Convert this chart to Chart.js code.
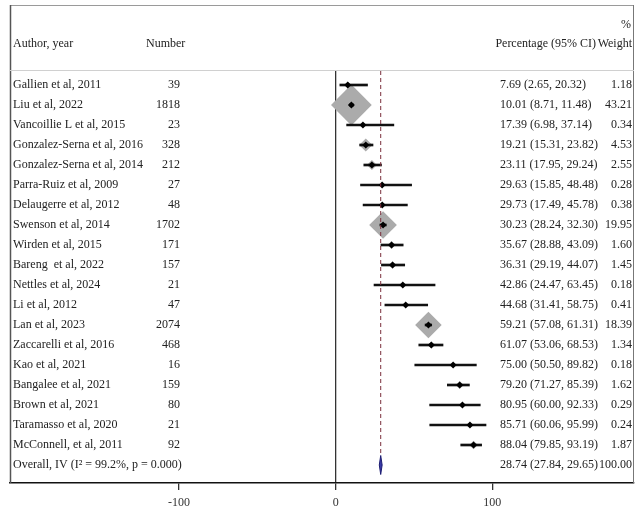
<!DOCTYPE html>
<html>
<head>
<meta charset="utf-8">
<script src="https://cdn.jsdelivr.net/npm/chart.js@4.4.1/dist/chart.umd.min.js"></script>
<style>
  html, body { margin: 0; padding: 0; background: #ffffff; }
  #c { display: block; }
</style>
</head>
<body>
<canvas id="c" width="641" height="512"></canvas>
<script>
// ---- data ----
const authors = [
  "Gallien et al, 2011", "Liu et al, 2022", "Vancoillie L et al, 2015",
  "Gonzalez-Serna et al, 2016", "Gonzalez-Serna et al, 2014", "Parra-Ruiz et al, 2009",
  "Delaugerre et al, 2012", "Swenson et al, 2014", "Wirden et al, 2015",
  "Bareng  et al, 2022", "Nettles et al, 2024", "Li et al, 2012", "Lan et al, 2023",
  "Zaccarelli et al, 2016", "Kao et al, 2021", "Bangalee et al, 2021",
  "Brown et al, 2021", "Taramasso et al, 2020", "McConnell, et al, 2011"
];
const numbers = [39, 1818, 23, 328, 212, 27, 48, 1702, 171, 157, 21, 47, 2074, 468, 16, 159, 80, 21, 92];
const estimates = [7.69, 10.01, 17.39, 19.21, 23.11, 29.63, 29.73, 30.23, 35.67, 36.31, 42.86, 44.68, 59.21, 61.07, 75.00, 79.20, 80.95, 85.71, 88.04];
const lower = [2.65, 8.71, 6.98, 15.31, 17.95, 15.85, 17.49, 28.24, 28.88, 29.19, 24.47, 31.41, 57.08, 53.06, 50.50, 71.27, 60.00, 60.06, 79.85];
const upper = [20.32, 11.48, 37.14, 23.82, 29.24, 48.48, 45.78, 32.30, 43.09, 44.07, 63.45, 58.75, 61.31, 68.53, 89.82, 85.39, 92.33, 95.99, 93.19];
const weights = [1.18, 43.21, 0.34, 4.53, 2.55, 0.28, 0.38, 19.95, 1.60, 1.45, 0.18, 0.41, 18.39, 1.34, 0.18, 1.62, 0.29, 0.24, 1.87];
const overallLabel = "Overall, IV (I\u00B2 = 99.2%, p = 0.000)";
const overallEst = 28.74, overallLow = 27.84, overallHigh = 29.65, overallWeight = 100.00;
const xTicks = [-100, 0, 100];

// ---- helpers ----
const fmt = v => v.toFixed(2);
const overallRow = authors.length;
const DIAMOND_HALF = 0.475;       // half height of pooled diamond, in rows
const BOX_K = 3.1;                // box radius per sqrt(weight)
const FONT = '12px "Liberation Serif", "Times New Roman", serif';
const TEXT = '#222222';

const rows = authors.map((_, i) => i);

const tablePlugin = {
  id: 'table',
  afterDraw(chart) {
    const { ctx, chartArea: { left, right, top, bottom }, scales: { y } } = chart;
    ctx.save();
    // frame
    ctx.lineWidth = 1;
    ctx.strokeStyle = '#9a9a9a';
    ctx.beginPath(); ctx.moveTo(left, 5.5); ctx.lineTo(right, 5.5); ctx.stroke();
    ctx.strokeStyle = '#777777';
    ctx.beginPath(); ctx.moveTo(right - 0.5, 5); ctx.lineTo(right - 0.5, bottom); ctx.stroke();
    ctx.strokeStyle = '#555555'; ctx.lineWidth = 1.5;
    ctx.beginPath(); ctx.moveTo(left + 0.5, 5); ctx.lineTo(left + 0.5, bottom); ctx.stroke();
    ctx.strokeStyle = '#d0d0d0'; ctx.lineWidth = 1;
    ctx.beginPath(); ctx.moveTo(left, 70.5); ctx.lineTo(right, 70.5); ctx.stroke();

    ctx.font = FONT;
    ctx.fillStyle = TEXT;
    ctx.textBaseline = 'middle';
    // header
    ctx.textAlign = 'left';
    ctx.fillText('Author, year', 13, 44);
    ctx.fillText('Number', 146, 44);
    ctx.textAlign = 'right';
    ctx.fillText('Percentage (95% CI)', 596, 44);
    ctx.fillText('Weight', 632, 44);
    ctx.fillText('%', 631, 25);

    // rows
    rows.forEach(i => {
      const py = y.getPixelForValue(i);
      ctx.textAlign = 'left';
      ctx.fillText(authors[i], 13, py);
      ctx.fillText(`${fmt(estimates[i])} (${fmt(lower[i])}, ${fmt(upper[i])})`, 500, py);
      ctx.textAlign = 'right';
      ctx.fillText(String(numbers[i]), 180, py);
      ctx.fillText(fmt(weights[i]), 632, py);
    });
    const oy = y.getPixelForValue(overallRow);
    ctx.textAlign = 'left';
    ctx.fillText(overallLabel, 13, oy);
    ctx.fillText(`${fmt(overallEst)} (${fmt(overallLow)}, ${fmt(overallHigh)})`, 500, oy);
    ctx.textAlign = 'right';
    ctx.fillText(fmt(overallWeight), 632, oy);
    ctx.restore();
  }
};

const chart = new Chart(document.getElementById('c'), {
  type: 'scatter',
  data: {
    datasets: [
      {
        // weight boxes
        type: 'scatter',
        data: rows.map(i => ({ x: estimates[i], y: i })),
        pointStyle: 'rectRot',
        pointRadius: rows.map(i => BOX_K * Math.sqrt(weights[i])),
        backgroundColor: '#ababab',
        borderWidth: 0,
        order: 4
      },
      {
        // confidence intervals
        type: 'bar',
        indexAxis: 'y',
        data: rows.map(i => ({ y: i, x: [lower[i], upper[i]] })),
        barThickness: 2,
        backgroundColor: '#111111',
        borderWidth: 0,
        order: 3
      },
      {
        // point estimates
        type: 'scatter',
        data: rows.map(i => ({ x: estimates[i], y: i })),
        pointStyle: 'rectRot',
        pointRadius: 3.5,
        backgroundColor: '#000000',
        borderWidth: 0,
        order: 2
      },
      {
        // pooled estimate reference line
        type: 'scatter',
        showLine: true,
        data: [{ x: overallEst, y: -0.7 }, { x: overallEst, y: overallRow - DIAMOND_HALF }],
        borderColor: '#7a2f3c',
        borderWidth: 1,
        borderDash: [4, 3],
        pointRadius: 0,
        order: 1
      },
      {
        // pooled diamond
        type: 'line',
        data: [
          { x: overallLow, y: overallRow },
          { x: overallEst, y: overallRow - DIAMOND_HALF },
          { x: overallHigh, y: overallRow },
          { x: overallEst, y: overallRow + DIAMOND_HALF },
          { x: overallLow, y: overallRow }
        ],
        fill: 'shape',
        backgroundColor: '#3a3aa8',
        borderColor: '#1c1c72',
        borderWidth: 1,
        pointRadius: 0,
        tension: 0,
        order: 0
      }
    ]
  },
  options: {
    responsive: false,
    animation: false,
    layout: { autoPadding: false, padding: { left: 10, right: 7, top: 71, bottom: 0 } },
    plugins: { legend: { display: false }, tooltip: { enabled: false } },
    scales: {
      x: {
        type: 'linear',
        min: -208,
        max: 190.5,
        offset: false,
        afterBuildTicks: s => { s.ticks = xTicks.map(v => ({ value: v })); },
        afterFit: s => { s.height = 29; s.paddingLeft = 0; s.paddingRight = 0; },
        grid: {
          drawOnChartArea: true,
          color: c => (c.tick && c.tick.value === 0) ? '#333333' : 'rgba(0,0,0,0)',
          lineWidth: 1.3,
          tickLength: 7,
          tickColor: '#333333'
        },
        border: { display: true, color: '#111111', width: 1.5 },
        ticks: {
          font: { family: '"Liberation Serif", "Times New Roman", serif', size: 12 },
          color: '#333333',
          padding: 6,
          maxRotation: 0
        }
      },
      y: {
        type: 'linear',
        reverse: true,
        min: -0.7,
        max: 19.9,
        offset: false,
        display: false
      }
    }
  },
  plugins: [tablePlugin]
});
</script>
</body>
</html>
